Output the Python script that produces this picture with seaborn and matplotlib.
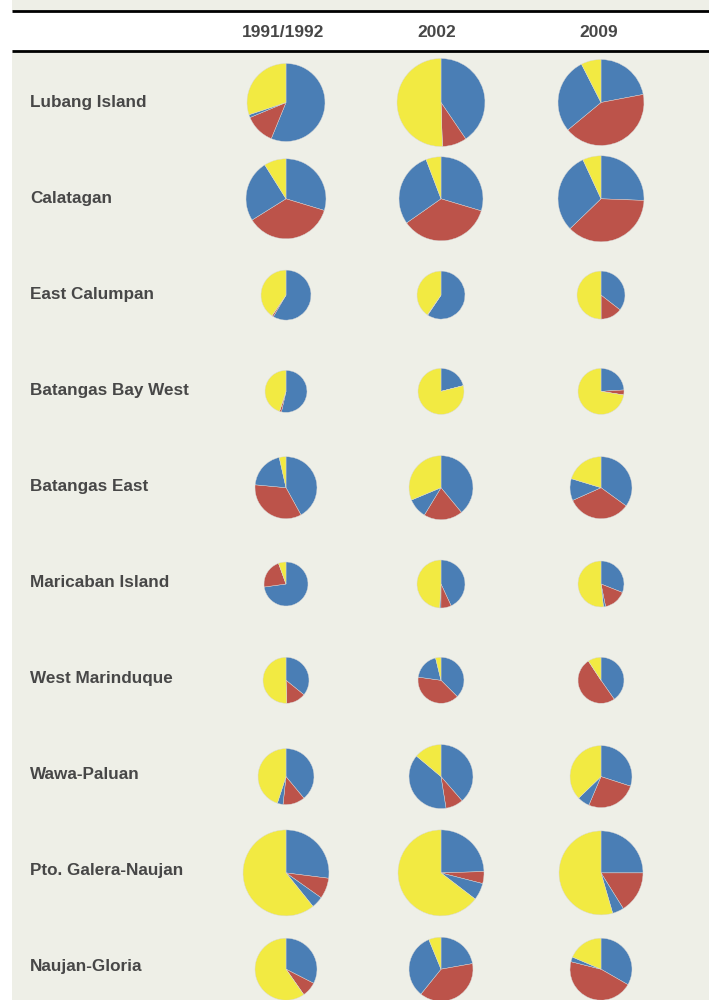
import matplotlib
matplotlib.use("Agg")
import matplotlib.pyplot as plt
from matplotlib.patches import Rectangle
import seaborn as sns

# ---------------- data ----------------
regions = ["Lubang Island", "Calatagan", "East Calumpan", "Batangas Bay West",
           "Batangas East", "Maricaban Island", "West Marinduque", "Wawa-Paluan",
           "Pto. Galera-Naujan", "Naujan-Gloria"]
years = ["1991/1992", "2002", "2009"]

# shares per wedge (clockwise from 12 o'clock): blue, red, blue (2nd), yellow
blue1 = [[0.56, 0.405, 0.22], [0.297, 0.297, 0.256], [0.585, 0.595, 0.355],
         [0.535, 0.21, 0.24], [0.42, 0.39, 0.35], [0.728, 0.43, 0.31],
         [0.358, 0.375, 0.403], [0.39, 0.386, 0.30], [0.27, 0.245, 0.25],
         [0.325, 0.222, 0.333]]
red = [[0.125, 0.09, 0.42], [0.364, 0.357, 0.372], [0.01, 0.003, 0.145],
       [0.015, 0.0, 0.035], [0.345, 0.197, 0.333], [0.217, 0.07, 0.158],
       [0.137, 0.397, 0.505], [0.127, 0.089, 0.264], [0.078, 0.045, 0.161],
       [0.078, 0.386, 0.456]]
blue2 = [[0.012, 0.0, 0.285], [0.25, 0.29, 0.303], [0.0, 0.0, 0.0],
         [0.0, 0.0, 0.0], [0.20, 0.10, 0.114], [0.0, 0.008, 0.015],
         [0.0, 0.19, 0.0], [0.033, 0.386, 0.064], [0.044, 0.064, 0.044],
         [0.0, 0.33, 0.025]]
yellow = [[0.30, 0.505, 0.075], [0.089, 0.058, 0.069], [0.405, 0.405, 0.50],
          [0.45, 0.79, 0.725], [0.035, 0.313, 0.203], [0.055, 0.49, 0.517],
          [0.505, 0.038, 0.092], [0.45, 0.139, 0.372], [0.608, 0.646, 0.545],
          [0.597, 0.062, 0.186]]
# relative pie size (radius)
pie_size = [[39, 44, 43], [40, 42, 43], [25, 24, 24], [21, 23, 23],
            [31, 32, 31], [22, 24, 23], [23, 23, 23], [28, 32, 31],
            [43, 43, 42], [31, 32, 31]]

# ---------------- style ----------------
sns.set_theme(style="white")
plt.rcParams["font.family"] = ["Liberation Sans", "DejaVu Sans"]
palette = sns.color_palette(["#4A7EB5", "#BC534A", "#4A7EB5", "#F2EA42"])
BG = "#EEEFE7"
TXT = "#474747"

W, H = 709, 1000
fig = plt.figure(figsize=(W / 100, H / 100), dpi=100)
fig.patch.set_facecolor(BG)
ax = fig.add_axes([0, 0, 1, 1])
ax.set_facecolor(BG)

def Y(py):
    return H - py

# left white strip and header band
ax.add_patch(Rectangle((0, 0), 12, H, color="white", lw=0, zorder=0))
ax.add_patch(Rectangle((12, Y(50)), W - 12, 39, color="white", lw=0, zorder=0))
for ly in (10.7, 50.6):
    ax.plot([12, W], [Y(ly), Y(ly)], color="black", lw=2.0,
            solid_capstyle="butt", zorder=3)

col_x = [286, 441, 601]
header_x = [283, 437, 599]
for hx, yr in zip(header_x, years):
    ax.text(hx, Y(37.3), yr, ha="center", va="baseline", fontsize=12.5,
            fontweight="bold", color=TXT)

row0, dy = 101, 96
pie_row0, pie_dy = 102.5, 96.3
for i, reg in enumerate(regions):
    ry = row0 + dy * i
    ax.text(30, Y(ry + 6), reg, ha="left", va="baseline", fontsize=12.3,
            fontweight="bold", color=TXT)
    py = pie_row0 + pie_dy * i
    for j in range(3):
        vals = [blue1[i][j], red[i][j], blue2[i][j], yellow[i][j]]
        ax.pie(vals, colors=palette, startangle=90, counterclock=False,
               radius=pie_size[i][j], center=(col_x[j], Y(py)),
               frame=True,
               wedgeprops=dict(linewidth=0.3, edgecolor="#d8d8d8"))

ax.set_xlim(0, W)
ax.set_ylim(0, H)
ax.set_aspect("auto")
ax.axis("off")
fig.savefig("out.png", dpi=100, facecolor=BG)
